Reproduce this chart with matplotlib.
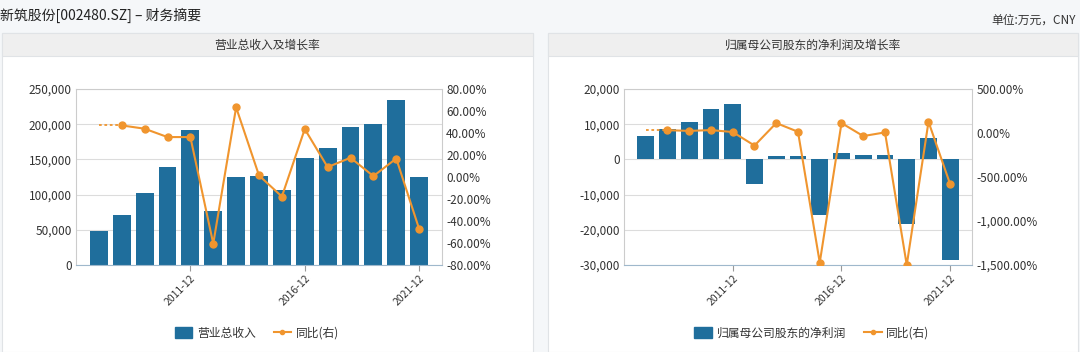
import matplotlib
matplotlib.use("Agg")
import matplotlib.pyplot as plt
from matplotlib.patches import Rectangle, Patch
from matplotlib.lines import Line2D
from matplotlib.ticker import FuncFormatter, FixedLocator
import numpy as np

plt.rcParams['font.family'] = ['Noto Sans CJK SC', 'DejaVu Sans']

# --- data (万元 / %) ---
years = ['2007-12', '2008-12', '2009-12', '2010-12', '2011-12', '2012-12', '2013-12',
         '2014-12', '2015-12', '2016-12', '2017-12', '2018-12', '2019-12', '2020-12', '2021-12']
tick_labels = ['2011-12', '2016-12', '2021-12']

revenue = [48400, 71000, 102000, 139500, 191700, 76400, 124800, 127000,
           106000, 151800, 166500, 196000, 200000, 234300, 124800]
revenue_yoy = [np.nan, 46.9, 43.9, 36.3, 36.3, -60.6, 63.3, 1.4,
               -17.8, 43.6, 9.0, 17.5, 0.8, 16.8, -47.2]

profit = [6530, 8600, 10700, 14200, 15800, -6850, 1000, 1000,
          -15800, 1900, 1300, 1300, -18400, 6000, -28600]
profit_yoy = [np.nan, 32, 24, 33, 11, -143, 113, 14,
              -1473, 113, -35, 7, -1500, 128, -585]

BLUE = '#1f6e9c'
ORANGE = '#f0952e'
GRID = '#dcdcdc'
TXT = '#333333'

W, H = 1080, 352
fig = plt.figure(figsize=(W / 100, H / 100), dpi=100)
fig.patch.set_facecolor('#f5f7f9')


def px(x0, y0, w, h):
    return [x0 / W, 1 - (y0 + h) / H, w / W, h / H]


# panel boxes and header strips (drawn under the axes)
for bx, bw, title in [(2, 531, '营业总收入及增长率'), (548, 530, '归属母公司股东的净利润及增长率')]:
    fig.patches.append(Rectangle((bx / W, 0), bw / W, 1 - 33 / H, transform=fig.transFigure,
                                 facecolor='white', edgecolor='#e0e3e6', lw=0.8, zorder=-2))
    fig.patches.append(Rectangle((bx / W, 1 - 56 / H), bw / W, 23 / H, transform=fig.transFigure,
                                 facecolor='#efefef', edgecolor='#e0e3e6', lw=0.8, zorder=-1))
    fig.text((bx + bw / 2) / W, 1 - 45 / H, title, ha='center', va='center',
             fontsize=8.5, color=TXT)

fig.text(0, 1 - 15 / H, '新筑股份[002480.SZ] – 财务摘要', ha='left', va='center',
         fontsize=10, color='#222222')
fig.text(1076 / W, 1 - 20 / H, '单位:万元，CNY', ha='right', va='center',
         fontsize=8.5, color=TXT)


def draw(rect, bars, yoy, ylim, ystep, y2lim, y2step, y2fmt, bar_label, legend_x):
    ax = fig.add_axes(rect)
    ax.set_facecolor('white')
    x = np.arange(len(years))
    ax.bar(x, bars, width=0.78, color=BLUE, zorder=2)
    ax.set_xlim(-1, len(years))
    ax.set_ylim(*ylim)
    ax.set_yticks(np.arange(ylim[0], ylim[1] + 1, ystep))
    ax.yaxis.set_major_formatter(FuncFormatter(lambda v, p: f'{v:,.0f}'))
    ax.grid(axis='y', color=GRID, lw=0.8, zorder=0)
    ax.set_axisbelow(True)
    pos = [years.index(t) for t in tick_labels]
    ax.xaxis.set_major_locator(FixedLocator(pos))
    ax.set_xticklabels(tick_labels, rotation=45, ha='right', va='top',
                       rotation_mode='anchor', fontsize=7.5, color=TXT)
    ax.tick_params(axis='x', length=4, color='#999999', pad=2)
    ax.tick_params(axis='y', length=0, labelsize=8.5, labelcolor=TXT, pad=3)
    for s in ax.spines.values():
        s.set_color('#cccccc')
        s.set_linewidth(0.8)
    ax.spines['bottom'].set_color('#9fb8cc')

    ax2 = ax.twinx()
    ax2.set_ylim(*y2lim)
    ax2.set_yticks(np.arange(y2lim[0], y2lim[1] + 1, y2step))
    ax2.yaxis.set_major_formatter(FuncFormatter(y2fmt))
    ax2.tick_params(axis='y', length=0, labelsize=8.5, labelcolor=TXT, pad=3)
    for s in ax2.spines.values():
        s.set_visible(False)
    yv = np.array(yoy, dtype=float)
    first = int(np.where(~np.isnan(yv))[0][0])
    ax2.plot([first - 1, first], [yv[first], yv[first]], color=ORANGE, lw=1.3,
             ls=(0, (1.5, 1.5)), zorder=3)
    ax2.plot(x, yv, color=ORANGE, lw=1.5, marker='o', ms=5, zorder=4)

    handles = [Patch(facecolor=BLUE, edgecolor=BLUE),
               Line2D([0], [0], color=ORANGE, lw=1.5, marker='o', ms=3)]
    fig.legend(handles, [bar_label, '同比(右)'], loc='center',
               bbox_to_anchor=(legend_x / W, 1 - 333 / H), ncol=2, frameon=False,
               fontsize=8.5, handlelength=1.5, handleheight=1.0, columnspacing=1.5,
               handletextpad=0.4, labelcolor=TXT)


def pct(v, p):
    return f'{v:,.2f}%'


draw(px(76, 89, 366, 176), revenue, revenue_yoy, (0, 250000), 50000,
     (-80, 80), 20, pct, '营业总收入', 257)
draw(px(624, 89, 348, 176), profit, profit_yoy, (-30000, 20000), 10000,
     (-1500, 500), 500, pct, '归属母公司股东的净利润', 812)

fig.savefig('out.png', dpi=100, facecolor=fig.get_facecolor())
